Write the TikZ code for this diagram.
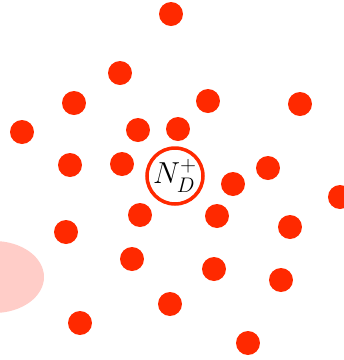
\documentclass[tikz,border=0pt]{standalone}
\usepackage{amsmath}
\usepackage{tikz}
\usetikzlibrary{positioning}

\definecolor{dotred}{RGB}{255,41,0}
\definecolor{haze}{RGB}{255,205,200}

\begin{document}
\begin{tikzpicture}[
    x=0.02cm, y=-0.02cm,
    electron/.style={circle, fill=dotred, minimum size=0.48cm, inner sep=0pt},
    donor/.style={circle, draw=dotred, line width=2pt, fill=white, minimum size=1.12cm, inner sep=0pt, font=\LARGE}
]
\clip (0,0) rectangle (344,360);
\fill[haze] (-6,277) ellipse [x radius=50, y radius=36];
\node[electron] (el1) at (171,14) {};
\node[electron] (el2) at (120,73) {};
\node[electron] (el3) at (74,103) {};
\node[electron] (el4) at (208,101) {};
\node[electron] (el5) at (300,104) {};
\node[electron] (el6) at (22,132) {};
\node[electron] (el7) at (138,130) {};
\node[electron] (el8) at (178,129) {};
\node[electron] (el9) at (70,165) {};
\node[electron] (el10) at (122,164) {};
\node[electron] (el11) at (268,168) {};
\node[electron] (el12) at (233,184) {};
\node[electron] (el13) at (340,197) {};
\node[electron] (el14) at (140,215) {};
\node[electron] (el15) at (217,216) {};
\node[electron] (el16) at (66,232) {};
\node[electron] (el17) at (290,227) {};
\node[electron] (el18) at (132,259) {};
\node[electron] (el19) at (214,269) {};
\node[electron] (el20) at (281,280) {};
\node[electron] (el21) at (170,304) {};
\node[electron] (el22) at (80,323) {};
\node[electron] (el23) at (248,343) {};
\node[donor] (nd) at (175,176) {$N_D^+$};
\end{tikzpicture}
\end{document}
